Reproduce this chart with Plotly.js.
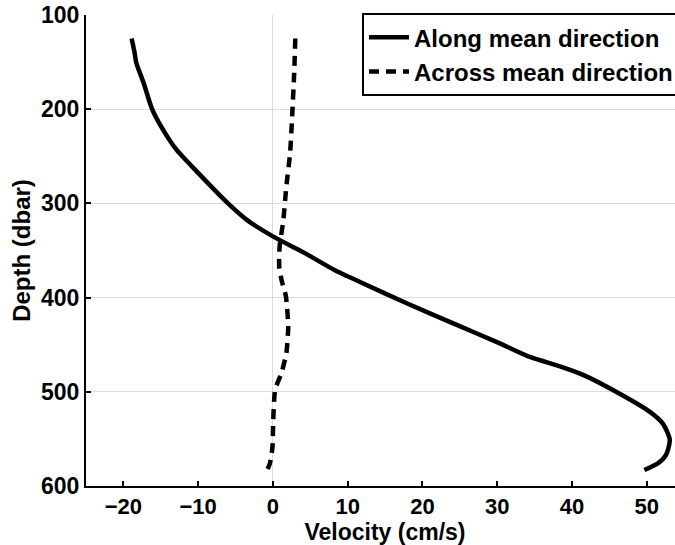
<!DOCTYPE html>
<html>
<head>
<meta charset="utf-8">
<script src="https://cdn.plot.ly/plotly-3.0.1.min.js"></script>
<style>
html,body{margin:0;padding:0;overflow:hidden;background:#fff;}
#chart{width:690px;height:545px;}
</style>
</head>
<body>
<div id="chart"></div>
<script>
// Along mean direction (solid)
var alongDepth = [125,140,150,155,172,199,219,243,266,300,318,335,352,371,385,406,429,447,463,473,482,502,521,534,551,567,576,583];
var alongVel   = [-18.9,-18.5,-18.3,-18.1,-17.3,-16.2,-14.9,-12.9,-10.2,-6.0,-3.4,0.0,4.1,8.3,12.1,17.9,24.6,29.9,34.4,38.4,41.5,46.4,50.4,52.2,53.1,52.6,51.5,49.7];
// Across mean direction (dashed)
var acrossDepth = [125,162,204,247,282,318,346,367,381,399,431,459,480,498,530,558,576,588];
var acrossVel   = [3.0,2.85,2.6,2.3,1.8,1.4,0.9,0.85,1.15,1.75,2.05,1.8,1.15,0.3,0.05,-0.05,-0.4,-1.05];

var xTickVals = [-20,-10,0,10,20,30,40,50];
var yTickVals = [100,200,300,400,500,600];

var FONT = 'Liberation Sans, Arial, Helvetica, sans-serif';

var traces = [
  {x: alongVel, y: alongDepth, mode: 'lines', name: 'Along mean direction',
   line: {color: '#000', width: 4.5, shape: 'spline', smoothing: 0.6}},
  {x: acrossVel, y: acrossDepth, mode: 'lines', name: 'Across mean direction',
   line: {color: '#000', width: 4.5, dash: '10px,7px', shape: 'spline', smoothing: 0.6}}
];

var layout = {
  width: 690, height: 545,
  margin: {l: 86, r: 6, t: 15, b: 59},
  paper_bgcolor: '#fff', plot_bgcolor: '#fff',
  font: {family: FONT, size: 23, color: '#000', weight: 'bold'},
  showlegend: true,
  legend: {x: 0.4615, y: 1.004, xanchor: 'left', yanchor: 'top',
           bgcolor: '#fff', bordercolor: '#000', borderwidth: 2,
           font: {family: FONT, size: 24, color: '#000', weight: 'bold'},
           itemwidth: 40, tracegroupgap: 0},
  xaxis: {range: [-25, 55], tickvals: xTickVals, ticks: 'inside', ticklen: 5, tickwidth: 2, tickcolor: '#000',
          showline: true, linecolor: '#000', linewidth: 2, mirror: false,
          showgrid: false, zeroline: true, zerolinecolor: '#dcdcdc', zerolinewidth: 1,
          tickfont: {family: FONT, size: 22, color: '#000', weight: 'bold'},
          title: {text: 'Velocity (cm/s)', font: {family: FONT, size: 23, color: '#000', weight: 'bold'}, standoff: 7}},
  yaxis: {range: [600, 100], tickvals: yTickVals, ticks: 'inside', ticklen: 5, tickwidth: 2, tickcolor: '#000',
          showline: true, linecolor: '#000', linewidth: 2, mirror: false,
          showgrid: true, gridcolor: '#dcdcdc', gridwidth: 1, zeroline: false,
          tickfont: {family: FONT, size: 23, color: '#000', weight: 'bold'},
          title: {text: 'Depth (dbar)', font: {family: FONT, size: 24, color: '#000', weight: 'bold'}, standoff: 4}}
};

Plotly.newPlot('chart', traces, layout, {displayModeBar: false, staticPlot: true});
</script>
</body>
</html>
